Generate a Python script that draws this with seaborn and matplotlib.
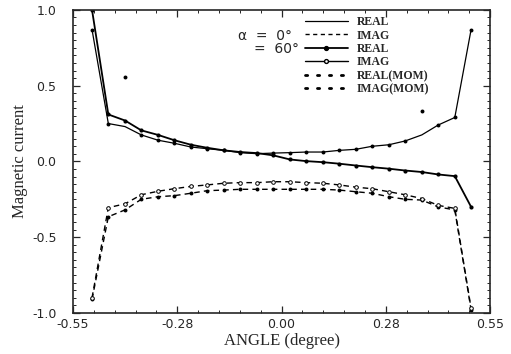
import numpy as np
import matplotlib
matplotlib.use("Agg")
import matplotlib.pyplot as plt
from matplotlib.lines import Line2D
from matplotlib.ticker import MultipleLocator
import seaborn as sns

# node positions (degree)
angle = [-0.5, -0.457, -0.413, -0.370, -0.326, -0.283, -0.239, -0.196,
         -0.152, -0.109, -0.065, -0.022, 0.022, 0.065, 0.109, 0.152,
         0.196, 0.239, 0.283, 0.326, 0.370, 0.413, 0.457, 0.5]

# alpha = 0 deg
real_0 = [0.87, 0.25, 0.23, 0.175, 0.14, 0.12, 0.095, 0.084, 0.073, 0.058,
          0.051, 0.055, 0.058, 0.062, 0.062, 0.073, 0.08, 0.10, 0.11, 0.135,
          0.175, 0.24, 0.29, 0.87]
imag_0 = [-0.91, -0.365, -0.32, -0.25, -0.233, -0.226, -0.21, -0.193, -0.189,
          -0.184, -0.184, -0.184, -0.184, -0.184, -0.184, -0.189, -0.20, -0.21,
          -0.233, -0.25, -0.255, -0.30, -0.32, -0.98]

# alpha = 60 deg
real_60 = [1.0, 0.31, 0.27, 0.205, 0.175, 0.14, 0.11, 0.09, 0.073, 0.062,
           0.055, 0.04, 0.013, 0.002, -0.005, -0.015, -0.027, -0.038, -0.048,
           -0.06, -0.07, -0.086, -0.097, -0.30]
imag_60 = [-0.90, -0.305, -0.28, -0.22, -0.197, -0.18, -0.165, -0.155, -0.144,
           -0.14, -0.14, -0.134, -0.134, -0.14, -0.144, -0.155, -0.17, -0.18,
           -0.20, -0.22, -0.245, -0.29, -0.31, -0.97]

# method of moments
real_mom = [0.87, 0.25, 0.56, 0.175, 0.14, 0.12, 0.095, 0.084, 0.073, 0.058,
            0.051, 0.055, 0.058, 0.062, 0.062, 0.073, 0.08, 0.10, 0.11, 0.135,
            0.33, 0.24, 0.29, 0.87]
imag_mom = [-0.91, -0.365, -0.32, -0.25, -0.233, -0.226, -0.21, -0.193, -0.189,
            -0.184, -0.184, -0.184, -0.184, -0.184, -0.184, -0.189, -0.20, -0.21,
            -0.233, -0.25, -0.255, -0.30, -0.32, -0.98]

x_ticks = [-0.55, -0.275, 0.0, 0.275, 0.55]
x_ticklabels = ["-0.55", "-0.28", "0.00", "0.28", "0.55"]
y_ticks = [-1.0, -0.5, 0.0, 0.5, 1.0]
y_ticklabels = ["-1.0", "-0.5", "0.0", "0.5", "1.0"]

legend_labels = ["REAL", "IMAG", "REAL", "IMAG", "REAL(MOM)", "IMAG(MOM)"]

sns.set_style("ticks")
plt.rcParams["font.family"] = ["DejaVu Sans"]

fig = plt.figure(figsize=(5.11, 3.54), dpi=100)
ax = fig.add_axes([0.143, 0.116, 0.816, 0.856])

sns.lineplot(x=angle, y=real_0, ax=ax, color="k", linewidth=0.9)
sns.lineplot(x=angle, y=imag_0, ax=ax, color="k", linewidth=1.0,
             linestyle=(0, (4, 3)))
sns.lineplot(x=angle, y=real_60, ax=ax, color="k", linewidth=1.3,
             marker="o", markersize=3.0, markeredgewidth=0)
sns.lineplot(x=angle, y=imag_60, ax=ax, color="k", linewidth=1.0,
             linestyle=(0, (4, 3)), marker="o", markersize=2.6,
             markerfacecolor="white", markeredgecolor="k", markeredgewidth=0.7)
sns.scatterplot(x=angle, y=real_mom, ax=ax, color="k", s=8, linewidth=0)
sns.scatterplot(x=angle, y=imag_mom, ax=ax, color="k", s=8, linewidth=0)

ax.set_xlim(-0.55, 0.55)
ax.set_ylim(-1.0, 1.0)
ax.set_xticks(x_ticks)
ax.set_xticklabels(x_ticklabels)
ax.set_yticks(y_ticks)
ax.set_yticklabels(y_ticklabels)
ax.xaxis.set_minor_locator(MultipleLocator(0.055))
ax.yaxis.set_minor_locator(MultipleLocator(0.05))
ax.tick_params(which="both", direction="in", top=True, right=True,
               labelsize=9)
ax.tick_params(axis="y", pad=12)
ax.tick_params(axis="x", pad=4)
ax.tick_params(which="major", length=5, width=0.9)
ax.tick_params(which="minor", length=2.5, width=0.7)
for sp in ax.spines.values():
    sp.set_linewidth(1.2)
    sp.set_visible(True)

ax.set_xlabel("ANGLE (degree)", family="Liberation Serif", fontsize=12,
              labelpad=1)
ax.set_ylabel("Magnetic current", family="Liberation Serif", fontsize=12,
              labelpad=3)

# legend
handles = [
    Line2D([], [], color="k", linewidth=0.9),
    Line2D([], [], color="k", linewidth=1.0, linestyle=(0, (3, 2.5))),
    Line2D([], [], color="k", linewidth=1.3, marker="o", markersize=2.8,
           markevery=0.2),
    Line2D([], [], color="k", linewidth=1.0, marker="o", markersize=2.8,
           markerfacecolor="white", markevery=0.2),
    Line2D([], [], color="k", linewidth=2.0, linestyle=(0, (0.8, 3.5)),
           dash_capstyle="round"),
    Line2D([], [], color="k", linewidth=2.0, linestyle=(0, (0.8, 3.5)),
           dash_capstyle="round"),
]
leg = ax.legend(handles, legend_labels, loc="upper left",
                bbox_to_anchor=(0.545, 0.995), frameon=False,
                handlelength=3.6, handletextpad=0.8, labelspacing=0.12,
                borderaxespad=0,
                prop={"family": "Liberation Serif", "weight": "bold",
                      "size": 8.5})

ax.text(0.395, 0.915, "\u03b1  =  0\u00b0", transform=ax.transAxes,
        fontsize=10, family="DejaVu Sans", ha="left", va="center")
ax.text(0.435, 0.870, "=  60\u00b0", transform=ax.transAxes,
        fontsize=10, family="DejaVu Sans", ha="left", va="center")

fig.savefig("out.png", dpi=100)
